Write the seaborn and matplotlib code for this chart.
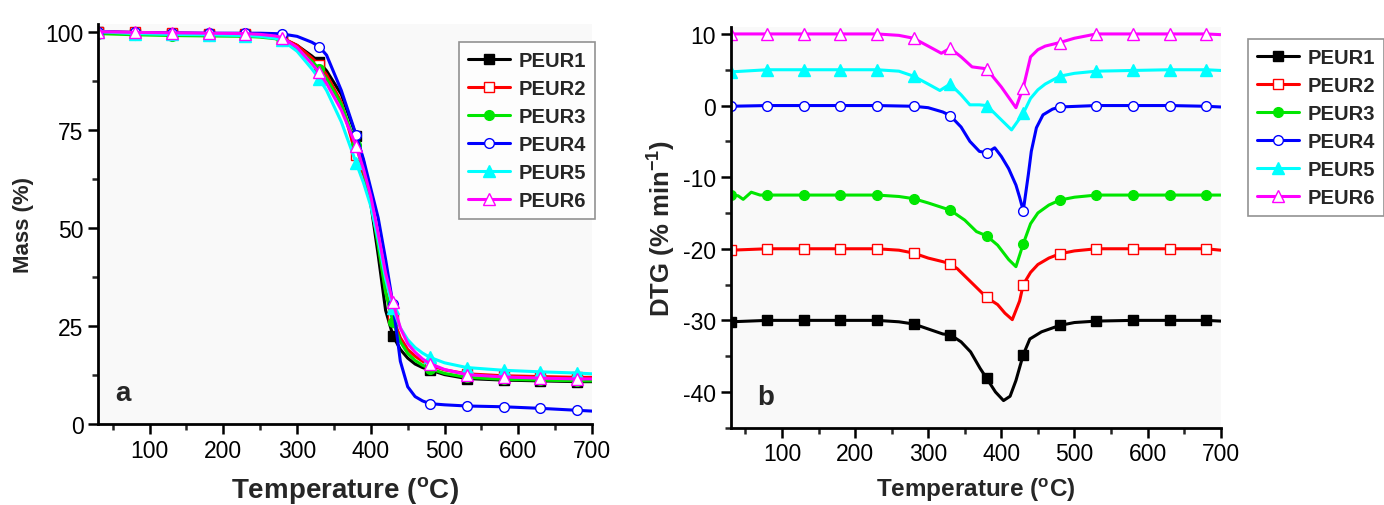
import numpy as np
import matplotlib
matplotlib.use("Agg")
import matplotlib.pyplot as plt
import seaborn as sns
from matplotlib.ticker import MultipleLocator

sns.set_style("ticks")
plt.rcParams['font.family'] = ['Liberation Sans', 'DejaVu Sans']
plt.rcParams['mathtext.fontset'] = 'custom'
plt.rcParams['mathtext.rm'] = 'Liberation Sans'
plt.rcParams['mathtext.bf'] = 'Liberation Sans:bold'
plt.rcParams['axes.unicode_minus'] = False

names = ['PEUR1', 'PEUR2', 'PEUR3', 'PEUR4', 'PEUR5', 'PEUR6']
colors = ['#000000', '#ff0000', '#00e600', '#0000ff', '#00ffff', '#ff00ff']
markers = ['s', 's', 'o', 'o', '^', '^']
filled = [True, False, True, False, True, False]
mark_t = [30, 80, 130, 180, 230, 280, 330, 380, 430, 480, 530, 580, 630, 680]

# (a) TGA mass (%)
t_tga = [30, 80, 130, 180, 230, 250, 270, 280, 300, 320, 330, 340, 360, 380, 390,
         400, 410, 420, 430, 440, 450, 460, 470, 480, 500, 530, 580, 630, 680, 700]
mass_1 = [100, 99.5, 99.3, 99.2, 99.1, 99.0, 98.6, 98.2, 96.5, 93.8, 92.2, 90.0, 84.0, 73.5, 67.0,
          56.0, 43.0, 29.0, 22.5, 19.0, 16.8, 15.3, 14.4, 13.8, 12.6, 11.6, 11.2, 11.0, 10.8, 10.8]
mass_2 = [100, 99.8, 99.6, 99.5, 99.4, 99.2, 98.8, 98.4, 96.5, 93.3, 91.5, 89.0, 82.0, 68.5, 63.5,
          57.0, 46.0, 34.0, 27.0, 22.0, 19.0, 17.3, 16.0, 15.0, 13.8, 12.8, 12.3, 12.1, 11.9, 11.9]
mass_3 = [99.5, 99.2, 99.0, 98.9, 98.8, 98.6, 98.2, 97.6, 95.5, 92.5, 90.5, 88.0, 81.5, 71.0, 64.5,
          56.5, 45.5, 33.5, 26.0, 21.0, 18.0, 16.2, 15.0, 14.1, 12.9, 11.9, 11.4, 11.2, 11.0, 11.0]
mass_4 = [100, 99.8, 99.7, 99.6, 99.6, 99.6, 99.5, 99.4, 98.8, 97.3, 96.2, 94.0, 85.0, 73.7, 67.5,
          60.0, 52.5, 42.0, 30.5, 16.0, 9.5, 7.0, 5.9, 5.2, 4.9, 4.6, 4.4, 4.0, 3.5, 3.3]
mass_5 = [100, 99.5, 99.3, 99.2, 99.0, 98.8, 98.3, 97.8, 95.0, 90.5, 88.0, 85.0, 77.0, 66.6, 61.5,
          55.5, 47.0, 37.0, 29.5, 24.5, 21.5, 19.5, 18.1, 17.0, 15.6, 14.4, 13.7, 13.3, 13.0, 12.8]
mass_6 = [100, 99.8, 99.7, 99.6, 99.5, 99.3, 98.9, 98.5, 96.0, 91.8, 89.6, 86.8, 80.0, 70.9, 65.0,
          58.0, 48.5, 38.5, 31.0, 24.5, 20.5, 18.3, 16.6, 15.4, 13.9, 12.6, 12.0, 11.7, 11.5, 11.5]

# (b) DTG (% min-1), curves shifted as in the original
t_dtg1 = [30, 80, 130, 180, 230, 260, 280, 300, 320, 330, 345, 358, 371, 380, 392, 403, 412,
          420, 430, 439, 455, 480, 500, 530, 580, 630, 680, 700]
dtg_1 = [-30.2, -30, -30, -30, -30, -30.2, -30.5, -31.2, -31.9, -32.0, -33.0, -34.4, -36.7, -38.1,
         -40.0, -41.2, -40.6, -38.4, -34.8, -32.6, -31.6, -30.7, -30.3, -30.1, -30.0, -30.0, -30.0, -30.1]
t_dtg2 = [30, 80, 130, 180, 230, 260, 280, 300, 320, 330, 340, 350, 366, 380, 395, 405, 415,
          425, 430, 440, 450, 465, 480, 500, 530, 580, 630, 680, 700]
dtg_2 = [-20.2, -20, -20, -20, -20, -20.2, -20.6, -21.3, -21.8, -22.1, -22.8, -23.8, -25.4, -26.8,
         -27.8, -29.0, -29.9, -27.3, -25.0, -23.3, -22.2, -21.3, -20.7, -20.3, -20.0, -20.0, -20.0,
         -20.0, -20.2]
t_dtg3 = [30, 40, 47, 58, 70, 80, 130, 180, 230, 260, 280, 300, 330, 350, 366, 380, 395, 410,
          420, 430, 440, 450, 465, 480, 500, 530, 580, 630, 680, 700]
dtg_3 = [-12.5, -12.6, -13.1, -12.1, -12.5, -12.5, -12.5, -12.5, -12.5, -12.7, -13.0, -13.6, -14.6,
         -16.0, -17.6, -18.2, -19.5, -21.5, -22.5, -19.3, -16.5, -15.0, -13.9, -13.2, -12.8, -12.5,
         -12.5, -12.5, -12.5, -12.5]
t_dtg4 = [30, 80, 130, 180, 230, 280, 300, 320, 330, 345, 357, 370, 380, 391, 400, 410, 420, 425,
          430, 437, 441, 448, 457, 470, 480, 530, 580, 630, 680, 700]
dtg_4 = [-0.1, 0, 0, 0, 0, -0.1, -0.3, -0.9, -1.4, -3.0, -5.0, -6.4, -6.6, -5.9, -7.1, -8.8, -11.1,
         -12.8, -14.7, -9.6, -6.4, -3.1, -1.3, -0.5, -0.2, 0, 0, 0, -0.1, -0.2]
t_dtg5 = [30, 80, 130, 180, 230, 260, 280, 300, 316, 330, 345, 357, 370, 380, 400, 414, 430, 440,
          450, 460, 480, 500, 530, 580, 630, 680, 700]
dtg_5 = [4.7, 5.0, 5.0, 5.0, 5.0, 4.8, 4.1, 3.0, 2.1, 3.0, 1.5, 0.1, 0.1, 0.0, -2.0, -3.4, -1.1, 1.0,
         2.2, 3.0, 4.1, 4.5, 4.8, 4.9, 5.0, 5.0, 4.9]
t_dtg6 = [30, 80, 130, 180, 230, 260, 280, 300, 318, 330, 345, 360, 375, 380, 400, 420, 430, 440,
          450, 460, 480, 500, 530, 580, 630, 680, 700]
dtg_6 = [10, 10, 10, 10, 10, 9.8, 9.4, 8.3, 7.3, 8.0, 6.8, 5.4, 5.2, 5.1, 2.6, -0.3, 2.5, 6.8, 7.8,
         8.3, 8.8, 9.4, 10, 10, 10, 10, 9.9]

tga = [(t_tga, mass_1), (t_tga, mass_2), (t_tga, mass_3), (t_tga, mass_4), (t_tga, mass_5), (t_tga, mass_6)]
dtg = [(t_dtg1, dtg_1), (t_dtg2, dtg_2), (t_dtg3, dtg_3), (t_dtg4, dtg_4), (t_dtg5, dtg_5), (t_dtg6, dtg_6)]

fig = plt.figure(figsize=(13.84, 5.06), dpi=100)
fig.patch.set_facecolor('white')
ax1 = fig.add_axes([0.0708, 0.160, 0.3570, 0.791])
ax2 = fig.add_axes([0.5280, 0.1526, 0.3540, 0.7925])


def draw(ax, series):
    for (t, v), name, c, m, f in zip(series, names, colors, markers, filled):
        idx = [i for i, x in enumerate(t) if x in mark_t]
        sns.lineplot(x=t, y=v, ax=ax, color=c, linewidth=2.2, marker=m, markevery=idx,
                     markersize=8 if m == '^' else 7, markerfacecolor=c if f else 'white',
                     markeredgecolor=c, markeredgewidth=1.0, label=name, estimator=None,
                     sort=False)


draw(ax1, tga)
draw(ax2, dtg)

for ax in (ax1, ax2):
    ax.set_facecolor('#f9f9f9')
    ax.set_xlim(30, 700)
    ax.xaxis.set_major_locator(MultipleLocator(100))
    ax.xaxis.set_minor_locator(MultipleLocator(50))
    sns.despine(ax=ax)
    for s in ('left', 'bottom'):
        ax.spines[s].set_linewidth(2)
        ax.spines[s].set_color('black')
    ax.tick_params(which='major', direction='out', length=7, width=1.8, labelsize=16.5, colors='black')
    ax.tick_params(which='minor', direction='out', length=4, width=1.8)

ax1.set_xlabel(r'Temperature ($^{\mathbf{o}}$C)', fontsize=20, fontweight='bold', labelpad=9)
ax2.set_xlabel(r'Temperature ($^{\mathbf{o}}$C)', fontsize=17.5, fontweight='bold', labelpad=7)

ax1.set_ylim(0, 102)
ax1.yaxis.set_major_locator(MultipleLocator(25))
ax1.yaxis.set_minor_locator(MultipleLocator(12.5))
ax1.set_ylabel('Mass (%)', fontsize=16, fontweight='bold', labelpad=8)
ax1.text(0.035, 0.06, 'a', transform=ax1.transAxes, fontsize=20, fontweight='bold')

ax2.set_ylim(-45, 11)
ax2.yaxis.set_major_locator(MultipleLocator(10))
ax2.yaxis.set_minor_locator(MultipleLocator(5))
ax2.set_ylabel(r'DTG (% min$^{\mathbf{-1}}$)', fontsize=18.5, fontweight='bold', labelpad=4)
ax2.text(0.055, 0.06, 'b', transform=ax2.transAxes, fontsize=20, fontweight='bold')

leg_kw = dict(prop={'weight': 'bold', 'size': 14.5}, frameon=True, fancybox=False,
              edgecolor='#777777', handlelength=2.1, handletextpad=0.4, labelspacing=0.45,
              borderpad=0.45, borderaxespad=0)
l1 = ax1.legend(loc='upper left', bbox_to_anchor=(459 / 1384, 1 - 43 / 506),
                bbox_transform=fig.transFigure, **leg_kw)
l2 = ax2.legend(loc='upper left', bbox_to_anchor=(1248 / 1384, 1 - 40 / 506),
                bbox_transform=fig.transFigure, **leg_kw)
for l in (l1, l2):
    l.get_frame().set_linewidth(1.2)
    l.get_frame().set_facecolor('white')

fig.savefig('out.png', dpi=100)
